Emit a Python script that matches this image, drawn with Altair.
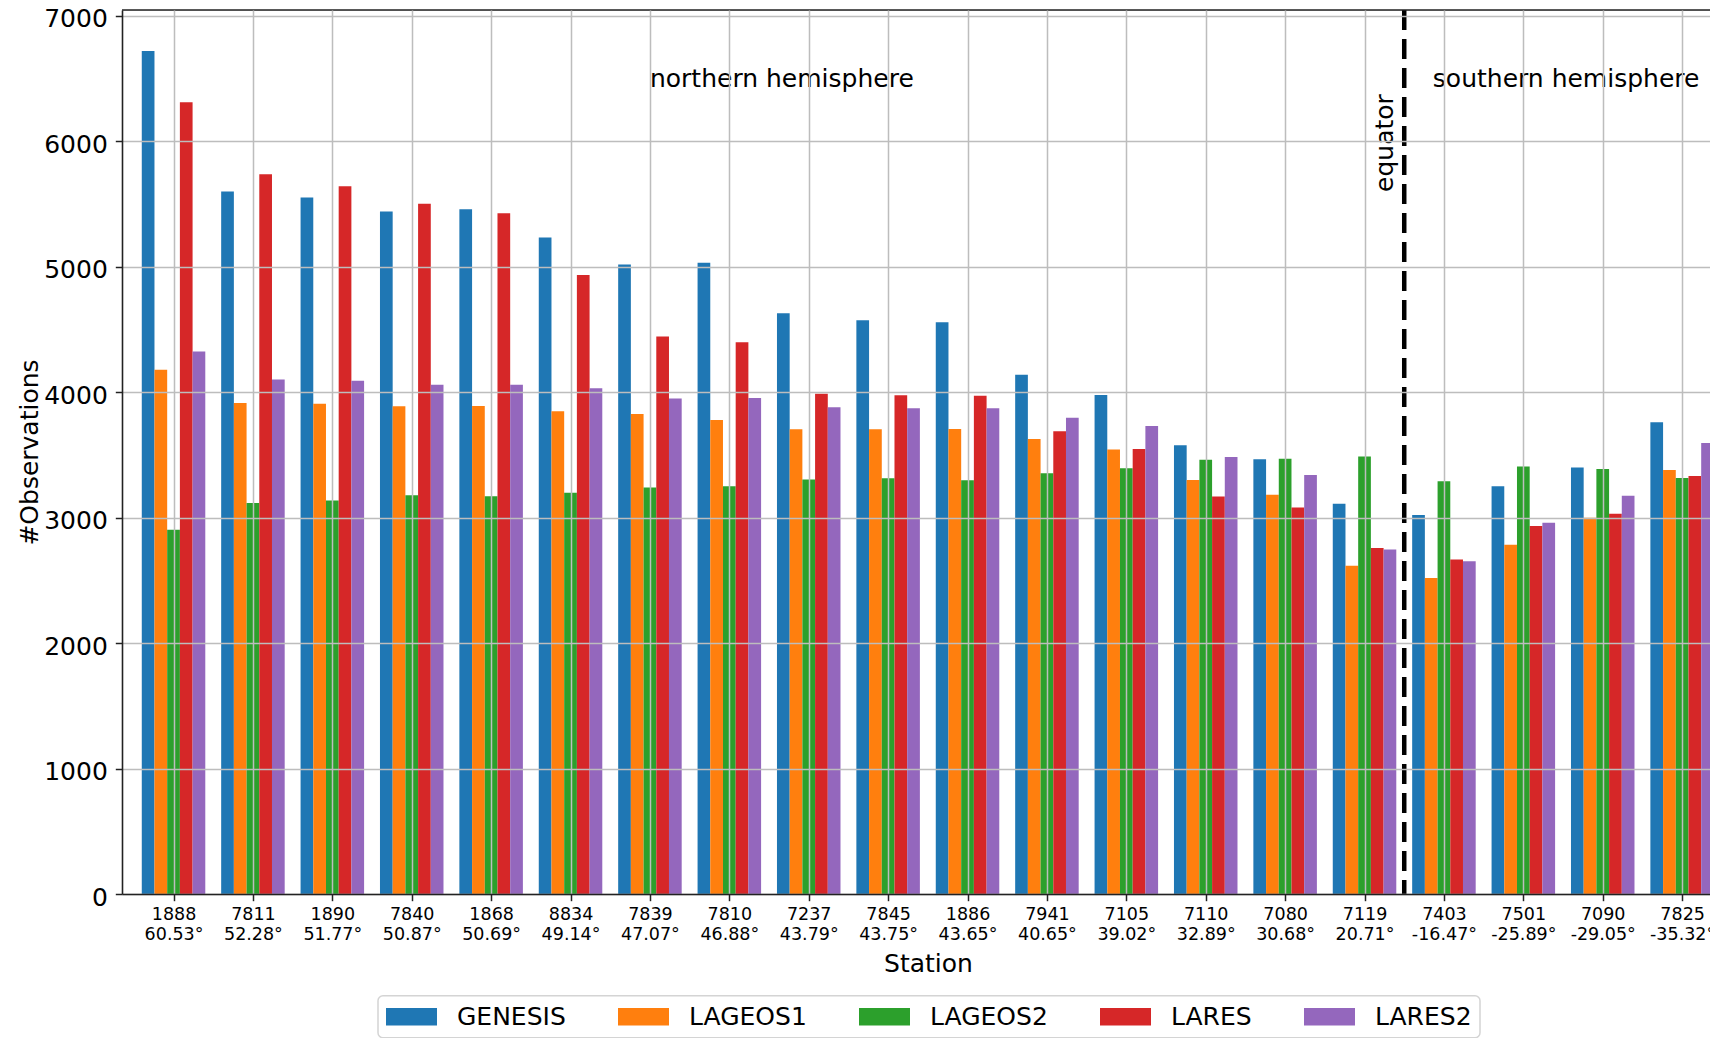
import json
import altair as alt
import pandas as pd

# ---------------- data ----------------
stations = ["1888", "7811", "1890", "7840", "1868", "8834", "7839", "7810", "7237", "7845",
            "1886", "7941", "7105", "7110", "7080", "7119", "7403", "7501", "7090", "7825"]
latitudes = ["60.53", "52.28", "51.77", "50.87", "50.69", "49.14", "47.07", "46.88", "43.79", "43.75",
             "43.65", "40.65", "39.02", "32.89", "30.68", "20.71", "-16.47", "-25.89", "-29.05", "-35.32"]

series_names = ["GENESIS", "LAGEOS1", "LAGEOS2", "LARES", "LARES2"]
series_colors = ["#1f77b4", "#ff7f0e", "#2ca02c", "#d62728", "#9467bd"]

genesis = [6718, 5598, 5550, 5439, 5458, 5232, 5016, 5030, 4628, 4572,
           4556, 4139, 3977, 3576, 3464, 3111, 3021, 3249, 3398, 3760]
lageos1 = [4178, 3913, 3908, 3887, 3889, 3847, 3826, 3778, 3704, 3704,
           3706, 3627, 3542, 3300, 3181, 2616, 2518, 2783, 2998, 3380]
lageos2 = [2903, 3117, 3136, 3178, 3170, 3197, 3239, 3250, 3303, 3314,
           3298, 3353, 3393, 3460, 3468, 3486, 3290, 3406, 3388, 3316]
lares = [6310, 5737, 5641, 5500, 5426, 4934, 4443, 4398, 3987, 3974,
         3971, 3688, 3547, 3168, 3080, 2757, 2666, 2932, 3030, 3332]
lares2 = [4323, 4100, 4090, 4059, 4059, 4030, 3948, 3953, 3879, 3871,
          3871, 3796, 3730, 3483, 3340, 2746, 2651, 2958, 3173, 3595]

series_values = [genesis, lageos1, lageos2, lares, lares2]

equator_between = [15.5]          # boundary between station 7119 and 7403 (category units)
annotations = [
    {"text": "northern hemisphere", "x": 6.0, "y": 6432},
    {"text": "southern hemisphere", "x": 15.86, "y": 6432},
]
equator_label = [{"text": "equator", "x": 15.26, "y": 5985}]

# ---------------- table ----------------
rows = []
for k, (name, vals) in enumerate(zip(series_names, series_values)):
    for i, v in enumerate(vals):
        rows.append({"idx": i, "station": stations[i], "series": name, "k": k, "value": v})
df = pd.DataFrame(rows)

tick_labels = [[s, lat + "°"] for s, lat in zip(stations, latitudes)]
label_expr = json.dumps(tick_labels, ensure_ascii=False) + "[datum.value]"

FONT = "DejaVu Sans"
W, H = 1588, 884
x_scale = alt.Scale(domain=[-0.649, 19.351], nice=False, zero=False)
y_scale = alt.Scale(domain=[0, 7045], nice=False)

x_axis = alt.Axis(
    values=list(range(len(stations))), labelExpr=label_expr, title="Station",
    grid=True, gridColor="#bdbdbd", gridWidth=1.5,
    domain=True, domainColor="#222222", domainWidth=1.6,
    ticks=True, tickColor="#222222", tickWidth=1.5, tickSize=6.7,
    labelFont=FONT, labelFontSize=17.5, labelColor="black", labelLineHeight=20,
    labelPadding=5, labelAngle=0, labelBaseline="top",
    titleFont=FONT, titleFontSize=25, titleFontWeight="normal", titleColor="black",
    titleX=806, titleY=69.5, titleAlign="center", titleBaseline="middle",
    zindex=1,
)
y_axis = alt.Axis(
    values=list(range(0, 7001, 1000)), format="d", title="#Observations",
    grid=True, gridColor="#bdbdbd", gridWidth=1.5,
    domain=True, domainColor="#222222", domainWidth=1.6,
    ticks=True, tickColor="#222222", tickWidth=1.5, tickSize=6.7,
    labelFont=FONT, labelFontSize=25, labelColor="black", labelPadding=8,
    labelBaseline="middle", labelOffset=3,
    titleFont=FONT, titleFontSize=25, titleFontWeight="normal", titleColor="black",
    titleX=-93, titleY=H / 2, titleAngle=270, titleAlign="center", titleBaseline="middle",
    zindex=1,
)

bars = alt.Chart(df).transform_calculate(
    x0="datum.idx + (datum.k - 2) * 0.16 - 0.08",
    x1="datum.idx + (datum.k - 2) * 0.16 + 0.08",
).mark_bar(strokeWidth=0).encode(
    x=alt.X("x0:Q", scale=x_scale, axis=x_axis),
    x2="x1:Q",
    y=alt.Y("value:Q", scale=y_scale, axis=y_axis),
    y2=alt.datum(0),
    color=alt.Color(
        "series:N",
        scale=alt.Scale(domain=series_names, range=series_colors),
        legend=alt.Legend(
            title=None, orient="none", legendX=256, legendY=985.7,
            direction="horizontal", columns=5,
            symbolType="M-1,-0.343H1V0.343H-1Z", symbolSize=2601,
            symbolStrokeWidth=0, symbolOpacity=1, clipHeight=26,
            labelFont=FONT, labelFontSize=25, labelColor="black", labelOffset=20,
            labelLimit=0, columnPadding=52, padding=8,
            strokeColor="#d4d4d4", cornerRadius=5, fillColor="white",
        ),
    ),
    order=alt.Order("k:Q"),
)

equator = alt.Chart(pd.DataFrame({"x": equator_between})).mark_rule(
    color="black", strokeWidth=4.5, strokeDash=[20, 9]
).encode(x=alt.X("x:Q", scale=x_scale))

hemi = alt.Chart(pd.DataFrame(annotations)).mark_text(
    font=FONT, fontSize=25, color="black", align="left", baseline="alphabetic"
).encode(x=alt.X("x:Q", scale=x_scale), y=alt.Y("y:Q", scale=y_scale), text="text:N")

eq_text = alt.Chart(pd.DataFrame(equator_label)).mark_text(
    font=FONT, fontSize=25, color="black", align="center", baseline="middle", angle=270
).encode(x=alt.X("x:Q", scale=x_scale), y=alt.Y("y:Q", scale=y_scale), text="text:N")

top_spine = alt.Chart(pd.DataFrame({"a": [0]})).mark_rule(
    color="#222222", strokeWidth=1.6
).encode(x=alt.value(0), x2=alt.value(W), y=alt.value(0))

chart = alt.layer(bars, equator, hemi, eq_text, top_spine).properties(
    width=W, height=H,
    padding={"left": 114, "top": 2, "right": 0, "bottom": 144},
    autosize=alt.AutoSizeParams(type="none"),
    background="white",
).configure_view(stroke=None).configure(font=FONT).configure_legend(strokeWidth=1.5)

chart.save("out.html", embed_options={"renderer": "svg", "actions": False})
